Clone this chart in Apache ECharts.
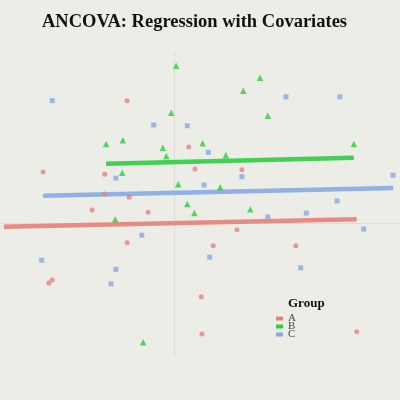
<!DOCTYPE html>
<html><head><meta charset="utf-8">
<script src="https://cdn.jsdelivr.net/npm/echarts@6/dist/echarts.min.js"></script>
<style>html,body{margin:0;padding:0;background:#EDEDE8}#c{width:400px;height:400px}</style>
</head><body><div id="c"></div>
<script>
const groups = ['A', 'B', 'C'];
const pointsA = [[-0.67,1.61],[-1.87,0.67],[-0.99,0.64],[0.21,1.00],[0.30,0.71],[0.97,0.70],[-0.99,0.38],[-0.64,0.34],[-1.17,0.17],[-0.37,0.14],[0.90,-0.09],[-0.67,-0.26],[-1.79,-0.79],[-1.74,-0.75],[0.39,-0.97],[0.40,-1.46],[0.56,-0.30],[1.74,-0.30],[2.61,-1.43]];
const pointsB = [[0.03,2.07],[1.23,1.91],[0.99,1.74],[-0.04,1.45],[1.34,1.41],[-0.97,1.04],[-0.73,1.09],[-0.16,0.99],[-0.11,0.88],[-0.74,0.66],[0.06,0.51],[0.19,0.25],[0.29,0.13],[-0.84,0.05],[0.41,1.05],[0.74,0.89],[2.57,1.04],[0.66,0.47],[1.09,0.18],[-0.44,-1.57]];
const pointsC = [[-1.74,1.61],[-0.29,1.29],[0.19,1.28],[1.60,1.66],[2.37,1.66],[-0.83,0.59],[-0.46,-0.16],[0.49,0.93],[0.43,0.50],[0.97,0.61],[3.13,0.63],[2.33,0.29],[1.89,0.13],[1.34,0.08],[2.71,-0.08],[-1.89,-0.49],[-0.83,-0.61],[-0.90,-0.80],[0.51,-0.45],[1.81,-0.59]];
const fitA = [[-2.43,-0.05],[2.61,0.05]];
const fitB = [[-0.97,0.78],[2.57,0.86]];
const fitC = [[-1.87,0.36],[3.13,0.46]];

const colA = '#E8807A', colB = '#2ECC40', colC = '#86A8E4';
const chart = echarts.init(document.getElementById('c'));
const serif = "'Liberation Serif', 'DejaVu Serif', serif";
chart.setOption({
  backgroundColor: '#EDEDE8',
  animation: false,
  title: [
    {text: 'ANCOVA: Regression with Covariates', left: 37, top: 8,
     textStyle: {fontFamily: serif, fontWeight: 'bold', fontSize: 18.5, color: '#111'}},
    {text: 'Group', left: 283, top: 292,
     textStyle: {fontFamily: serif, fontWeight: 'bold', fontSize: 13, color: '#111'}}
  ],
  legend: {
    orient: 'vertical', left: 276, top: 313, padding: 0, itemGap: -3,
    itemWidth: 7, itemHeight: 4,
    textStyle: {fontFamily: serif, fontSize: 11, color: '#444'},
    data: [{name: groups[0], icon: 'rect'}, {name: groups[1], icon: 'rect'}, {name: groups[2], icon: 'rect'}]
  },
  grid: {left: 0, right: 0, top: 52, bottom: 44},
  xAxis: {type: 'value', min: -2.486, max: 3.229,
    axisLine: {onZero: true, lineStyle: {color: '#D2D2CC', type: [1, 2], width: 1}},
    axisTick: {show: false}, axisLabel: {show: false}, splitLine: {show: false}},
  yAxis: {type: 'value', min: -1.75, max: 2.25,
    axisLine: {onZero: true, lineStyle: {color: '#D2D2CC', type: [1, 2], width: 1}},
    axisTick: {show: false}, axisLabel: {show: false}, splitLine: {show: false}},
  series: [
    {name: groups[0], type: 'line', data: fitA, symbol: 'none', lineStyle: {color: colA, width: 4.5, opacity: 0.9}, itemStyle: {color: colA}, z: 1},
    {name: groups[1], type: 'line', data: fitB, symbol: 'none', lineStyle: {color: colB, width: 4.5, opacity: 0.9}, itemStyle: {color: colB}, z: 1},
    {name: groups[2], type: 'line', data: fitC, symbol: 'none', lineStyle: {color: colC, width: 4.5, opacity: 0.9}, itemStyle: {color: colC}, z: 1},
    {name: groups[0], type: 'scatter', data: pointsA, symbol: 'circle', symbolSize: 5, clip: false, itemStyle: {color: colA}, z: 2},
    {name: groups[1], type: 'scatter', data: pointsB, symbol: 'triangle', symbolSize: 6.5, clip: false, itemStyle: {color: colB}, z: 2},
    {name: groups[2], type: 'scatter', data: pointsC, symbol: 'rect', symbolSize: 5, clip: false, itemStyle: {color: colC}, z: 2}
  ]
});
</script></body></html>
